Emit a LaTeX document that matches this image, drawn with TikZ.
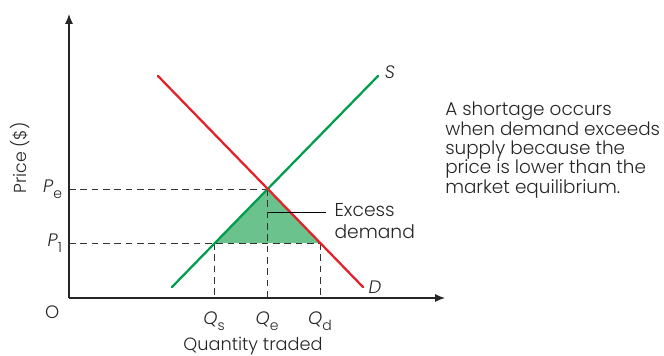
\documentclass[tikz,border=0pt]{standalone}
\usepackage{fontspec}
\setmainfont{Poppins}[UprightFont=* Light, ItalicFont=* Light Italic]
\usetikzlibrary{calc, positioning, arrows.meta}
\definecolor{supplygreen}{RGB}{0,158,76}
\definecolor{demandred}{RGB}{228,32,40}
\definecolor{shortfill}{RGB}{108,194,140}
\newcommand{\qlbl}[2]{\textit{#1}\raisebox{-0.6ex}{\fontsize{10.5}{10.5}\selectfont #2}}

\begin{document}
\begin{tikzpicture}[x=0.75pt, y=-0.75pt, node distance=4pt, >={Latex[length=7.5pt,width=6pt]}]
        \tikzstyle{axis} = [draw=black!85, line width=0.8pt]
        \tikzstyle{curve} = [line width=1.7pt, line cap=round]
        \tikzstyle{guide} = [draw=black!80, dash pattern=on 5pt off 3.5pt, line width=0.6pt]
        \tikzstyle{lbl} = [inner sep=1pt, text=black!85, font=\fontsize{13.5}{16}\selectfont]
        \useasboundingbox (0,0) rectangle (664,356);

        \coordinate (O) at (69,298);
        \coordinate (ytop) at (69,14);
        \coordinate (xend) at (445,298);
        \coordinate (s1) at (172,287);
        \coordinate (s2) at (378,76);
        \coordinate (d1) at (158,76);
        \coordinate (d2) at (363,287);
        \coordinate (E) at (267,189);
        \coordinate (A) at (214,243);
        \coordinate (B) at (320,243);
        \coordinate (ptr) at (268,212);

        \fill[shortfill] (E) -- (A) -- (B) -- cycle;

        \draw[guide] (O |- E) -- (E);
        \draw[guide] (O |- B) -- (B);
        \draw[guide] (A) -- (A |- O);
        \draw[guide] (E) -- (E |- O);
        \draw[guide] (B) -- (B |- O);

        \draw[axis, ->] (O) -- (ytop);
        \draw[axis, ->] (O) -- (xend);

        \draw[curve, supplygreen] (s1) -- (s2);
        \draw[curve, demandred] (d1) -- (d2);

        \node[lbl, right=4pt of s2, yshift=3pt] (slab) {\textit{S}};
        \node[lbl, right=3pt of d2] (dlab) {\textit{D}};
        \node[lbl, left=4pt of O |- E] (pe) {\qlbl{P}{e}};
        \node[lbl, left=4pt of O |- B] (p1) {\qlbl{P}{1}};
        \node[lbl, below left=5pt and 6pt of O] (orig) {O};
        \node[lbl, below=9pt of A |- O] (qs) {\qlbl{Q}{s}};
        \node[lbl, below=9pt of E |- O] (qe) {\qlbl{Q}{e}};
        \node[lbl, below=9pt of B |- O] (qd) {\qlbl{Q}{d}};
        \node[lbl, font=\fontsize{13.3}{16}\selectfont] (xlab) at (253,346) {Quantity traded};
        \node[lbl, font=\fontsize{13}{16}\selectfont, rotate=90] (ylab) at (20,158) {Price (\$)};

        \node[lbl, align=left, anchor=west, font=\fontsize{14}{17}\selectfont] (exc) at (333,221) {Excess\\demand};
        \draw[line width=0.6pt] (ptr) -- ([xshift=-5pt]exc.west |- ptr);

        \node[lbl, align=left, anchor=north west, inner sep=0pt, font=\fontsize{13.8}{13.7}\selectfont] (note) at (445,102) {A shortage occurs\\when demand exceeds\\supply because the\\price is lower than the\\market equilibrium.};
    \end{tikzpicture}
\end{document}
